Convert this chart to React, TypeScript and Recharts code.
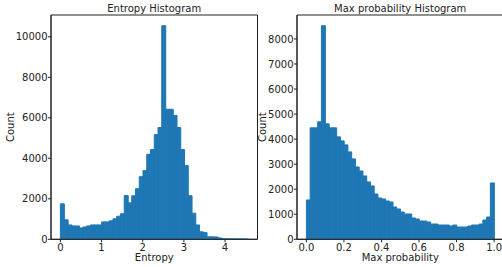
import React from 'react';
import { BarChart, Bar, XAxis, YAxis, ReferenceArea } from 'recharts';

// Entropy histogram: 50 bins between entropyRange[0] and entropyRange[1]
const entropyCounts = [
  1750, 960, 710, 660, 660, 560, 610, 660, 710, 710,
  710, 860, 860, 910, 1010, 1140, 1260, 2160, 1800, 2150,
  2500, 3090, 3390, 4200, 4430, 5170, 5520, 10550, 6420, 6420,
  6120, 5520, 4430, 3640, 2150, 1290, 710, 370, 330, 120,
  120, 115, 65, 25, 20, 20, 20, 15, 15, 10,
];
const entropyRange = [0, 4.56];
const entropyXTicks = [0, 1, 2, 3, 4];
const entropyYTicks = [0, 2000, 4000, 6000, 8000, 10000];

// Max probability histogram: 50 bins between maxProbRange[0] and maxProbRange[1]
const maxProbCounts = [
  1570, 4450, 4450, 4690, 8530, 4610, 4450, 4450, 4090, 3930,
  3770, 3490, 3210, 2890, 2730, 2530, 2290, 2130, 1810, 1650,
  1610, 1530, 1490, 1290, 1210, 1090, 1010, 1010, 850, 810,
  730, 730, 690, 610, 610, 570, 570, 570, 530, 570,
  490, 490, 490, 530, 570, 570, 610, 770, 890, 2250,
];
const maxProbRange = [0, 1];
const maxProbXTicks = [0, 0.2, 0.4, 0.6, 0.8, 1.0];
const maxProbYTicks = [0, 1000, 2000, 3000, 4000, 5000, 6000, 7000, 8000];

const FONT = 'DejaVu Sans';
const INK = '#222';
const BAR = '#1f77b4';

function toBins(counts: number[], range: number[]) {
  const [lo, hi] = range;
  const w = (hi - lo) / counts.length;
  return counts.map((c, i) => ({ x: lo + (i + 0.5) * w, count: c }));
}

function paddedDomain(range: number[]): [number, number] {
  const span = range[1] - range[0];
  return [range[0] - 0.05 * span, range[1] + 0.05 * span];
}

type HistProps = {
  counts: number[];
  range: number[];
  xTicks: number[];
  yTicks: number[];
  xLabel: string;
  fmt: (v: number) => string;
  yAxisWidth: number;
  width: number;
  yLabelOffset: number;
};

function Hist({ counts, range, xTicks, yTicks, xLabel, fmt, yAxisWidth, width, yLabelOffset }: HistProps) {
  const data = toBins(counts, range);
  const xDomain = paddedDomain(range);
  const yMax = Math.max(...counts) * 1.05;
  return (
    <BarChart
      width={width}
      height={267}
      data={data}
      margin={{ top: 15, right: 4.5, bottom: 0, left: 0 }}
      barCategoryGap={0}
      barGap={0}
    >
      <XAxis
        dataKey="x"
        type="number"
        domain={xDomain}
        allowDataOverflow
        ticks={xTicks}
        interval={0}
        tickFormatter={fmt}
        height={27.7}
        tickSize={3}
        tickMargin={1.3}
        stroke={INK}
        tick={{ fill: INK, fontSize: 10, fontFamily: FONT }}
        label={{
          value: xLabel,
          position: 'insideBottom',
          offset: 6,
          style: { fill: INK, fontSize: 10, fontFamily: FONT },
        }}
      />
      <YAxis
        type="number"
        domain={[0, yMax]}
        allowDataOverflow
        ticks={yTicks}
        interval={0}
        width={yAxisWidth}
        tickSize={3}
        tickMargin={0.5}
        stroke={INK}
        tick={{ fill: INK, fontSize: 10, fontFamily: FONT }}
        label={{
          value: 'Count',
          angle: -90,
          position: 'insideLeft',
          offset: yLabelOffset,
          style: { fill: INK, fontSize: 10, fontFamily: FONT, textAnchor: 'middle' },
        }}
      />
      <Bar
        dataKey="count"
        fill={BAR}
        stroke={BAR}
        strokeWidth={1}
        isAnimationActive={false}
      />
      <ReferenceArea
        x1={xDomain[0]}
        x2={xDomain[1]}
        y1={0}
        y2={yMax}
        fill="none"
        fillOpacity={0}
        stroke={INK}
        strokeWidth={1}
        strokeOpacity={1}
        ifOverflow="visible"
      />
    </BarChart>
  );
}

export default function App() {
  return (
    <div
      style={{
        position: 'absolute',
        left: 0,
        top: 0,
        width: 502,
        height: 267,
        overflow: 'hidden',
        background: '#fff',
        fontFamily: FONT,
      }}
    >
      <div style={{ position: 'absolute', left: 0, top: 0 }}>
        <Hist
          counts={entropyCounts}
          range={entropyRange}
          xTicks={entropyXTicks}
          yTicks={entropyYTicks}
          xLabel="Entropy"
          fmt={(v) => String(v)}
          yAxisWidth={51}
          width={262}
          yLabelOffset={10}
        />
      </div>
      <div style={{ position: 'absolute', left: 252, top: 0 }}>
        <Hist
          counts={maxProbCounts}
          range={maxProbRange}
          xTicks={maxProbXTicks}
          yTicks={maxProbYTicks}
          xLabel="Max probability"
          fmt={(v) => v.toFixed(1)}
          yAxisWidth={45}
          width={256}
          yLabelOffset={10.5}
        />
      </div>
      <svg
        width={502}
        height={267}
        style={{ position: 'absolute', left: 0, top: 0, pointerEvents: 'none' }}
      >
        <text x={154.2} y={12} textAnchor="middle" fontSize={10} fontFamily={FONT} fill={INK}>
          Entropy Histogram
        </text>
        <text x={400.2} y={12} textAnchor="middle" fontSize={10} fontFamily={FONT} fill={INK}>
          Max probability Histogram
        </text>
      </svg>
    </div>
  );
}
